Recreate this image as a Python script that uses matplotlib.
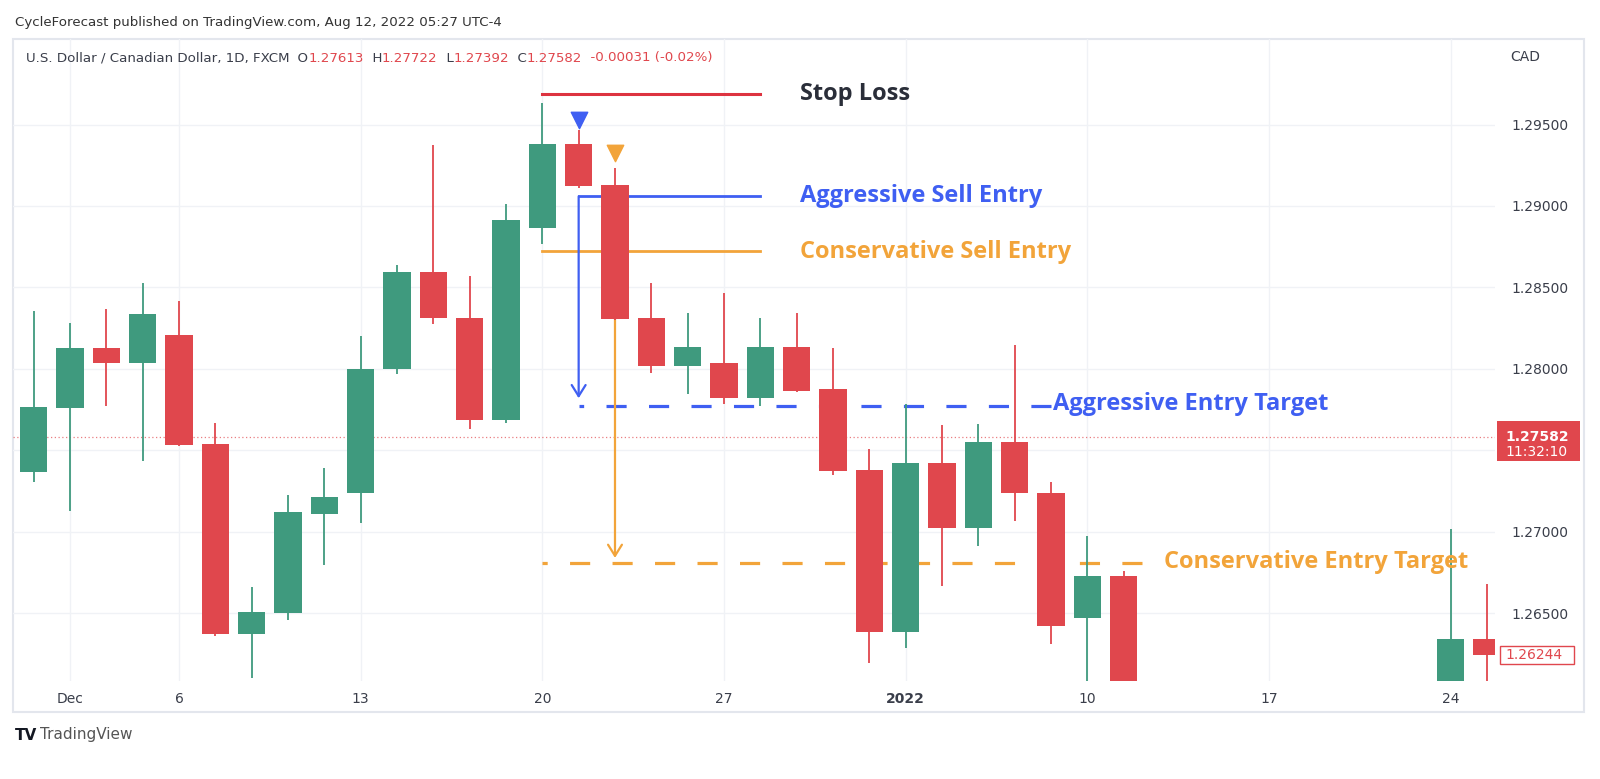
import numpy as np
import matplotlib
matplotlib.use("Agg")
import matplotlib.pyplot as plt
from matplotlib.patches import Rectangle
from matplotlib.transforms import blended_transform_factory

W, H = 1600, 779

# bar index (trading days from Nov 30 2021) and OHLC
bar_x = [0, 1, 2, 3, 4, 5, 6, 7, 8, 9, 10, 11, 12, 13, 14, 15, 16, 17, 18, 19,
         20, 21, 22, 23, 24, 25, 26, 27, 28, 29, 30, 39, 40]
opens = [1.27369, 1.27761, 1.28130, 1.28035, 1.28206, 1.27540, 1.26370, 1.26500,
         1.27109, 1.27239, 1.27998, 1.28597, 1.28313, 1.27684, 1.28865, 1.29383,
         1.29131, 1.28314, 1.28016, 1.28035, 1.27822, 1.28133, 1.27876, 1.27377,
         1.26388, 1.27423, 1.27021, 1.27551, 1.27237, 1.26470, 1.26732, 1.26000,
         1.26340]
highs = [1.28354, 1.28283, 1.28368, 1.28530, 1.28415, 1.27668, 1.26664, 1.27227,
         1.27393, 1.28202, 1.28638, 1.29375, 1.28571, 1.29010, 1.29633, 1.29469,
         1.29236, 1.28527, 1.28342, 1.28467, 1.28314, 1.28344, 1.28128, 1.27509,
         1.27784, 1.27656, 1.27660, 1.28148, 1.27303, 1.26975, 1.26759, 1.27016,
         1.26680]
lows = [1.27304, 1.27129, 1.27775, 1.27434, 1.27525, 1.26360, 1.26106, 1.26461,
        1.26796, 1.27054, 1.27968, 1.28273, 1.27629, 1.27670, 1.28768, 1.29113,
        1.28300, 1.27973, 1.27846, 1.27785, 1.27770, 1.27860, 1.27346, 1.26196,
        1.26289, 1.26670, 1.26911, 1.27066, 1.26309, 1.26050, 1.25900, 1.25800,
        1.26080]
closes = [1.27765, 1.28130, 1.28035, 1.28334, 1.27531, 1.26370, 1.26506, 1.27119,
          1.27215, 1.28000, 1.28597, 1.28311, 1.27684, 1.28912, 1.29383, 1.29123,
          1.28307, 1.28016, 1.28133, 1.27822, 1.28133, 1.27865, 1.27371, 1.26388,
          1.27423, 1.27021, 1.27551, 1.27237, 1.26421, 1.26732, 1.25950, 1.26340,
          1.26244]

tick_pos = [1, 4, 9, 14, 19, 24, 29, 34, 39]
tick_labels = ["Dec", "6", "13", "20", "27", "2022", "10", "17", "24"]
price_ticks = [1.265, 1.270, 1.280, 1.285, 1.290, 1.295]
grid_levels = [1.265, 1.270, 1.275, 1.280, 1.285, 1.290, 1.295]

# drawings
stop_loss = 1.29686
agg_entry = 1.29059
cons_entry = 1.28723
agg_target = 1.27775
cons_target = 1.26808
agg_arrow_tip = 1.27820
cons_arrow_tip = 1.26840
agg_marker = 1.29525
cons_marker = 1.29325
last_price = 1.27582
bar_close = 1.26244

UP = "#3f9a7e"
DOWN = "#e0474d"
BLUE = "#3f5ff2"
ORANGE = "#f2a43a"
SL_RED = "#dd3340"
TXT = "#2a2e39"

fig = plt.figure(figsize=(16, 7.79), dpi=100)
fig.patch.set_facecolor("white")

# chart frame
fig.patches.append(Rectangle((13.3 / W, 1 - 712 / H), (1584 - 13.3) / W, (712 - 38.8) / H,
                             transform=fig.transFigure, facecolor="none",
                             edgecolor="#e3e6ed", linewidth=1.5, zorder=0))

ax = fig.add_axes([13.3 / W, 1 - 680.6 / H, (1495 - 13.3) / W, (680.6 - 38.8) / H])
ax.set_facecolor("none")
ax.set_zorder(1)
ax.set_xlim(-0.56, 40.22)
ax.set_ylim(1.26087, 1.30026)
for s in ax.spines.values():
    s.set_visible(False)

for g in grid_levels:
    ax.axhline(g, color="#f0f2f6", lw=1, zorder=0)
for t in tick_pos:
    ax.axvline(t, color="#f0f2f6", lw=1, zorder=0)

# current price dotted line
ax.axhline(last_price, color=DOWN, lw=0.9, ls=(0, (1, 2)), alpha=0.7, zorder=0.5)

# drawing lines (behind candles)
ax.plot([14, 20], [stop_loss, stop_loss], color=SL_RED, lw=2.2, zorder=1)
ax.plot([15, 20], [agg_entry, agg_entry], color=BLUE, lw=2.0, zorder=1)
ax.plot([14, 20], [cons_entry, cons_entry], color=ORANGE, lw=2.0, zorder=1)
# dashed targets drawn right to left so a full dash sits next to the label
l1, = ax.plot([28, 15], [agg_target, agg_target], color=BLUE, lw=2.3, zorder=1)
l1.set_dashes((6.3, 7.0))
l2, = ax.plot([30.5, 14], [cons_target, cons_target], color=ORANGE, lw=2.3, zorder=1)
l2.set_dashes((6.3, 7.0))

ax.annotate("", xy=(15, agg_arrow_tip), xytext=(15, agg_entry),
            arrowprops=dict(arrowstyle="->,head_length=0.8,head_width=0.5", color=BLUE, lw=1.6,
                            shrinkA=0, shrinkB=0), zorder=1)
ax.annotate("", xy=(16, cons_arrow_tip), xytext=(16, cons_entry),
            arrowprops=dict(arrowstyle="->,head_length=0.8,head_width=0.5", color=ORANGE, lw=1.6,
                            shrinkA=0, shrinkB=0), zorder=1)

# candles
bx = np.array(bar_x)
o = np.array(opens)
c = np.array(closes)
hi = np.array(highs)
lo = np.array(lows)
cols = [UP if cc >= oo else DOWN for oo, cc in zip(o, c)]
ax.vlines(bx, lo, hi, colors=cols, lw=1.3, zorder=2)
ax.bar(bx, np.abs(c - o), bottom=np.minimum(o, c), width=0.76, color=cols, zorder=3)

# entry markers
ax.scatter([15], [agg_marker], marker="v", s=140, color=BLUE, zorder=4)
ax.scatter([16], [cons_marker], marker="v", s=140, color=ORANGE, zorder=4)

lab = dict(fontsize=17, fontweight="bold", family="Open Sans", va="center", ha="left", zorder=5)
ax.text(21.1, stop_loss, "Stop Loss", color=TXT, **lab)
ax.text(21.1, agg_entry, "Aggressive Sell Entry", color=BLUE, **lab)
ax.text(21.1, cons_entry - 0.00005, "Conservative Sell Entry", color=ORANGE, **lab)
ax.text(28.05, agg_target + 0.0001, "Aggressive Entry Target", color=BLUE, **lab)
ax.text(31.1, cons_target + 0.00005, "Conservative Entry Target", color=ORANGE, **lab)

# axes ticks
ax.set_xticks(tick_pos, tick_labels)
ax.tick_params(axis="x", length=0, pad=8, labelsize=10, labelcolor="#3a3e4a")
for t in ax.get_xticklabels():
    if t.get_text() == "2022":
        t.set_fontweight("bold")
ax.yaxis.tick_right()
ax.set_yticks(price_ticks, ["%.5f" % p for p in price_ticks])
ax.tick_params(axis="y", length=0, pad=12, labelsize=10, labelcolor="#3a3e4a")

# price labels on the scale
tr = blended_transform_factory(fig.transFigure, ax.transData)
ax.add_patch(Rectangle((1497 / W, last_price - 0.00148), 83 / W, 0.00246, transform=tr,
                       facecolor=DOWN, edgecolor="none", clip_on=False, zorder=6))
ax.text(1505 / W, last_price, "1.27582", transform=tr, color="white", fontsize=10,
        fontweight="bold", va="center", ha="left", clip_on=False, zorder=7)
ax.text(1505 / W, last_price - 0.00095, "11:32:10", transform=tr, color="white", fontsize=10,
        va="center", ha="left", clip_on=False, zorder=7)
ax.add_patch(Rectangle((1500 / W, bar_close - 0.00055), 74 / W, 0.0011, transform=tr,
                       facecolor="white", edgecolor=DOWN, lw=1, clip_on=False, zorder=6))
ax.text(1505 / W, bar_close, "1.26244", transform=tr, color=DOWN, fontsize=10,
        va="center", ha="left", clip_on=False, zorder=7)
fig.text(1510 / W, 1 - 57 / H, "CAD", fontsize=10, color="#3a3e4a", va="center")

# header texts
fig.text(15 / W, 1 - 22.5 / H, "CycleForecast published on TradingView.com, Aug 12, 2022 05:27 UTC-4",
         fontsize=9.6, color="#333333", va="center")

renderer = fig.canvas.get_renderer()
pieces = [("U.S. Dollar / Canadian Dollar, 1D, FXCM", "#3a3e4a"), ("  O", "#3a3e4a"), ("1.27613", DOWN),
          ("  H", "#3a3e4a"), ("1.27722", DOWN), ("  L", "#3a3e4a"), ("1.27392", DOWN),
          ("  C", "#3a3e4a"), ("1.27582", DOWN), ("  -0.00031 (-0.02%)", DOWN)]
xp = 25.5
for s, col in pieces:
    t = fig.text(xp / W, 1 - 58 / H, s, fontsize=9.6, color=col, va="center", ha="left")
    xp += t.get_window_extent(renderer).width

# footer logo
fig.text(15 / W, 1 - 735 / H, "TV", fontsize=11, fontweight="bold", color="#131722", va="center")
fig.text(40 / W, 1 - 735 / H, "TradingView", fontsize=11, color="#555555", va="center")

fig.savefig("out.png", dpi=100)
